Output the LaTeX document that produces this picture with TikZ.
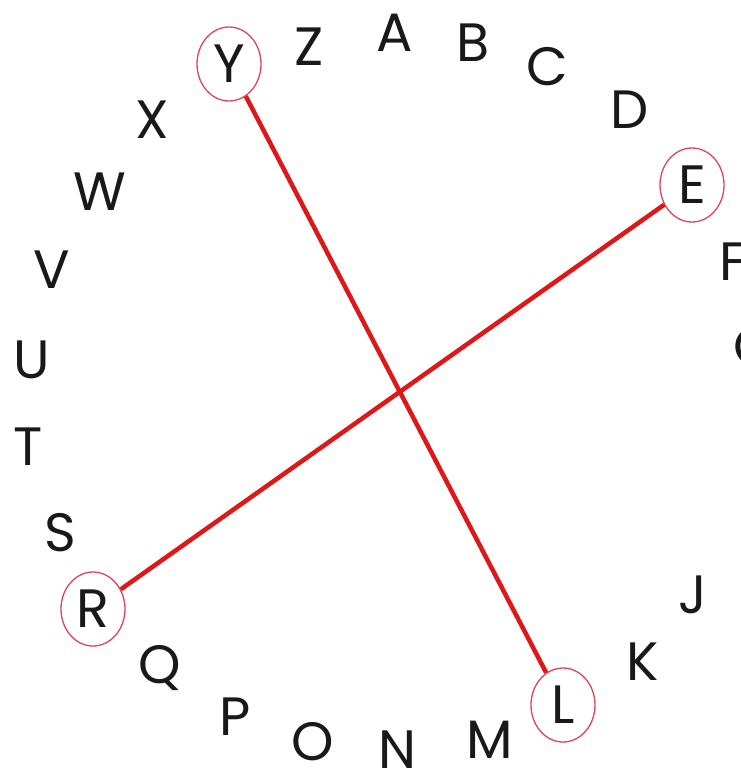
\documentclass[tikz,border=0pt]{standalone}
\usepackage{fontspec}
\setmainfont{Poppins}
\usetikzlibrary{shapes.geometric}
\definecolor{lineRed}{RGB}{222,24,24}
\definecolor{ringRed}{RGB}{224,70,90}
\definecolor{ink}{RGB}{25,25,25}
\tikzset{
  lt/.style={inner sep=0pt, text=ink, font=\fontsize{54}{54}\selectfont},
  ring/.style={lt, ellipse, draw=ringRed, line width=1.3pt, minimum width=64pt, minimum height=74pt},
  redline/.style={draw=lineRed, line width=4.5pt}
}
\begin{document}
\begin{tikzpicture}[x=1pt,y=-1pt]
\useasboundingbox (0,0) rectangle (740,773);
\clip (0,0) rectangle (740,773);
\fill[white] (0,0) rectangle (740,773);
\node[ring] (Y) at (229,64) {Y};
\node[lt] (Z) at (309,47) {Z};
\node[lt] (A) at (395,33) {A};
\node[lt] (B) at (473,43) {B};
\node[lt] (C) at (547,67) {C};
\node[lt] (D) at (630,110) {D};
\node[ring] (E) at (692,185) {E};
\node[lt] (F) at (733,262) {F};
\node[lt] (G) at (754,347) {G};
\node[lt] (H) at (760,430) {H};
\node[lt] (J) at (693,595) {J};
\node[lt] (K) at (643,662) {K};
\node[ring] (L) at (563,705) {L};
\node[lt] (M) at (490,740) {M};
\node[lt] (N) at (397,750) {N};
\node[lt] (O) at (313,742) {O};
\node[lt] (P) at (235,717) {P};
\node[lt] (Q) at (160,668) {Q};
\node[ring] (R) at (93,609) {R};
\node[lt] (S) at (60,533) {S};
\node[lt] (T) at (28,447) {T};
\node[lt] (U) at (32,360) {U};
\node[lt] (V) at (52,270) {V};
\node[lt] (W) at (100,192) {W};
\node[lt] (X) at (152,120) {X};
\draw[redline] (Y) -- (L);
\draw[redline] (R) -- (E);
\end{tikzpicture}
\end{document}
